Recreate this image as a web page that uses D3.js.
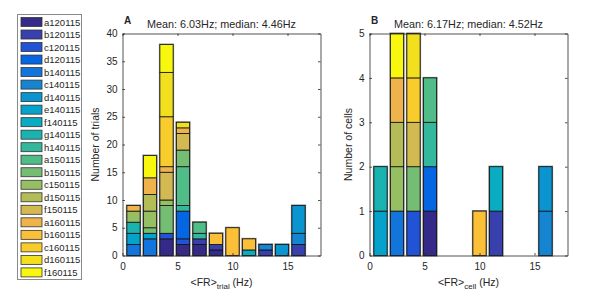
<!DOCTYPE html>
<html><head><meta charset="utf-8">
<script src="https://cdn.jsdelivr.net/npm/d3@7"></script>
<style>
html,body{margin:0;padding:0;background:#fff;}
text{font-family:"Liberation Sans",Arial,Helvetica,sans-serif;fill:#262626;}
</style></head><body>
<svg id="c" width="591" height="296"></svg>
<script>
// ---- data ----
const binCenters = [1, 2.5, 4, 5.5, 7, 8.5, 10, 11.5, 13, 14.5, 16];
const cellNames = ["a120115","b120115","c120115","d120115","b140115","c140115","d140115",
  "e140115","f140115","g140115","h140115","a150115","b150115","c150115","d150115",
  "f150115","a160115","b160115","c160115","d160115","f160115"];
const cellColors = ["#352a87","#3840ad","#2053d6","#0466e2","#1175dc","#1585d2","#0a94d0",
  "#05a3cc","#09acc0","#1ab3b0","#33b89e","#50bc88","#74bd72","#96be62","#b4bc58",
  "#d3b951","#eeb44b","#fcbf38","#f8cc2c","#f2df1e","#f8f80f"];
// trials per bin (panel A), one array per cell
const trialCounts = [
  [0,0,3,2,2,1,0,0,0,0,0], // a120115
  [0,0,0,0,1,1,0,0,1,0,2], // b120115
  [0,0,1,1,0,0,0,0,0,0,0], // c120115
  [0,0,0,5,0,0,0,0,0,0,0], // d120115
  [2,3,0,0,0,0,0,0,0,0,0], // b140115
  [0,0,0,0,0,0,0,0,1,0,2], // c140115
  [0,0,0,0,0,0,0,0,0,2,5], // d140115
  [2,1,0,0,0,0,0,0,0,0,0], // e140115
  [0,0,0,0,0,0,0,1,0,0,0], // f140115
  [2,0,0,0,0,0,0,0,0,0,0], // g140115
  [0,0,0,1,1,0,0,0,0,0,0], // h140115
  [0,0,0,7,2,0,0,0,0,0,0], // a150115
  [0,1,5,3,0,0,0,0,0,0,0], // b150115
  [2,3,1,0,0,0,0,0,0,0,0], // c150115
  [0,3,0,0,0,0,0,0,0,0,0], // d150115
  [0,0,5,3,0,0,0,0,0,0,0], // f150115
  [1,3,1,1,0,0,0,0,0,0,0], // a160115
  [0,0,0,0,0,2,5,2,0,0,0], // b160115
  [0,0,9,0,0,0,0,0,0,0,0], // c160115
  [0,0,8,1,0,0,0,0,0,0,0], // d160115
  [0,4,5,0,0,0,0,0,0,0,0]  // f160115
];
// bin of each cell's mean rate (panel B)
const cellBin = [5.5,11.5,4,5.5,2.5,16,16,1,11.5,1,5.5,5.5,4,2.5,2.5,4,2.5,10,4,4,2.5];
const xTicks = [0,5,10,15];
const yTicksA = [0,5,10,15,20,25,30,35,40];
const yTicksB = [0,1,2,3,4,5];
const titleA = "Mean: 6.03Hz; median: 4.46Hz";
const titleB = "Mean: 6.17Hz; median: 4.52Hz";

const cellCounts = cellNames.map((n,i)=>binCenters.map(b=> b===cellBin[i]?1:0));

const svg = d3.select("#c");
const binWidth = 1.5, barFrac = 0.8;
const axCol = "#262626";

function panel(opt){
  const g = svg.append("g");
  const x = d3.scaleLinear().domain([0,18]).range([opt.x0, opt.x1]);
  const y = d3.scaleLinear().domain([0, opt.ymax]).range([opt.yb, opt.yt]);
  const rows = binCenters.map((b,j)=>{
    const o = {bin:b};
    cellNames.forEach((n,i)=>o[n]=opt.counts[i][j]);
    return o;
  });
  const stack = d3.stack().keys(cellNames)(rows);
  const bw = x(binWidth*barFrac) - x(0);
  const tot = d=>d3.sum(cellNames,n=>d[n]);
  g.append("g").selectAll("rect").data(rows.filter(r=>tot(r)>0)).join("rect")
    .attr("x", d=>x(d.bin)-bw/2).attr("width", bw)
    .attr("y", d=>y(tot(d))).attr("height", d=>y(0)-y(tot(d)))
    .attr("fill","none").attr("stroke","#7a7a7a").attr("stroke-width",2);
  stack.forEach((s,i)=>{
    g.append("g").selectAll("rect").data(s.filter(d=>d[1]-d[0]>0)).join("rect")
      .attr("x", d=>x(d.data.bin)-bw/2).attr("width", bw)
      .attr("y", d=>y(d[1])).attr("height", d=>y(d[0])-y(d[1]))
      .attr("fill", cellColors[i]).attr("stroke","#111").attr("stroke-width",0.8);
  });
  const ts = 2.5;
  const ax = g.append("g").attr("transform",`translate(0,${opt.yb})`)
    .call(d3.axisBottom(x).tickValues(xTicks).tickSize(-ts).tickPadding(7).tickSizeOuter(0).tickFormat(d3.format("d")));
  const ay = g.append("g").attr("transform",`translate(${opt.x0},0)`)
    .call(d3.axisLeft(y).tickValues(opt.yticks).tickSize(-ts).tickPadding(5).tickSizeOuter(0).tickFormat(d3.format("d")));
  const at = g.append("g").attr("transform",`translate(0,${opt.yt})`)
    .call(d3.axisTop(x).tickValues(xTicks).tickSize(-ts).tickFormat("").tickSizeOuter(0));
  const ar = g.append("g").attr("transform",`translate(${opt.x1},0)`)
    .call(d3.axisRight(y).tickValues(opt.yticks).tickSize(-ts).tickFormat("").tickSizeOuter(0));
  [ax,ay,at,ar].forEach(a=>{
    a.selectAll("path,line").attr("stroke",axCol).attr("stroke-width",0.8);
    a.selectAll("text").attr("font-size","10px").attr("fill",axCol)
      .style("font-family",'"Liberation Sans",Arial,sans-serif');
  });
  const cx = (opt.x0+opt.x1)/2;
  g.append("text").attr("x",cx).attr("y",opt.yt-5.5).attr("text-anchor","middle")
    .attr("font-size","10.8px").text(opt.title);
  g.append("text").attr("x",opt.x0+1.5).attr("y",opt.yt-10).attr("font-size","10px")
    .attr("font-weight","bold").attr("fill","#000").text(opt.letter);
  g.append("text").attr("transform",`translate(${opt.ylabX},${(opt.yt+opt.yb)/2}) rotate(-90)`)
    .attr("text-anchor","middle").attr("font-size","10.5px").text(opt.ylabel);
  const xl = g.append("text").attr("x",cx).attr("y",285.5).attr("text-anchor","middle").attr("font-size","10.5px");
  xl.append("tspan").text("<FR>");
  xl.append("tspan").attr("font-size","8px").attr("dy",3).text(opt.sub);
  xl.append("tspan").attr("dy",-3).text(" (Hz)");
}

panel({x0:122.5, x1:320.5, yt:33.5, yb:255.5, ymax:40, counts:trialCounts, yticks:yTicksA,
  title:titleA, letter:"A", ylabel:"Number of trials", ylabX:99, sub:"trial"});
panel({x0:369.5, x1:567.5, yt:33.5, yb:255.5, ymax:5, counts:cellCounts, yticks:yTicksB,
  title:titleB, letter:"B", ylabel:"Number of cells", ylabX:352, sub:"cell"});

// legend
const lg = svg.append("g");
const lx = 17, ly = 14, pitch = 12.52;
lg.append("rect").attr("x",lx+0.5).attr("y",ly+0.5).attr("width",64).attr("height",265)
  .attr("fill","#fff").attr("stroke","#8a8a8a").attr("stroke-width",1);
const items = lg.selectAll("g.it").data(cellNames).join("g").attr("class","it")
  .attr("transform",(d,i)=>`translate(0,${ly+3.5+i*pitch})`);
items.append("rect").attr("x",21).attr("y",0).attr("width",21).attr("height",9)
  .attr("fill",(d,i)=>cellColors[i]).attr("stroke","#333").attr("stroke-width",0.8);
items.append("text").attr("x",44).attr("y",4.5).attr("dominant-baseline","central")
  .attr("font-size","9.5px").attr("fill","#000").text(d=>d);
</script>
</body></html>
